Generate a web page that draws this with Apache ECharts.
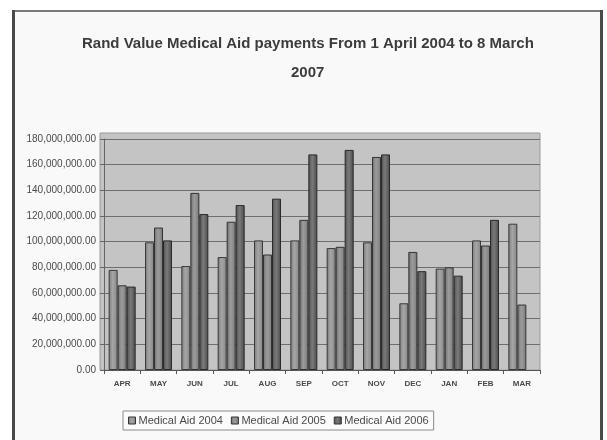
<!DOCTYPE html>
<html>
<head>
<meta charset="utf-8">
<script src="https://cdn.jsdelivr.net/npm/echarts@6/dist/echarts.min.js"></script>
<style>
html,body{margin:0;padding:0;background:#ffffff;}
#chart{width:607px;height:440px;}
</style>
</head>
<body>
<div id="chart"></div>
<script>
var categories = ['APR','MAY','JUN','JUL','AUG','SEP','OCT','NOV','DEC','JAN','FEB','MAR'];
var aid2004 = [78000000, 99500000, 81000000, 88000000, 101000000, 101000000, 95000000, 99500000, 52000000, 79000000, 101000000, 114000000];
var aid2005 = [66000000, 111000000, 138000000, 115500000, 90000000, 117000000, 96000000, 166000000, 92000000, 80000000, 97000000, 51000000];
var aid2006 = [65000000, 101000000, 121500000, 128500000, 133500000, 168000000, 171500000, 168000000, 77000000, 73500000, 117000000, null];
var seriesNames = ['Medical Aid 2004', 'Medical Aid 2005', 'Medical Aid 2006'];
var titleLines = ['Rand Value Medical Aid payments From 1 April 2004 to 8 March', '2007'];
var yTicks = {min: 0, max: 180000000, interval: 20000000};

function fmt(v) {
  var s = Math.round(v).toString();
  var out = '';
  for (var i = 0; i < s.length; i++) {
    if (i > 0 && (s.length - i) % 3 === 0) out += ',';
    out += s[i];
  }
  return out + '.00';
}

function grad(dark, mid, light) {
  return new echarts.graphic.LinearGradient(0, 0, 1, 0, [
    {offset: 0, color: dark},
    {offset: 0.45, color: light},
    {offset: 1, color: mid}
  ]);
}

var chart = echarts.init(document.getElementById('chart'), null, {renderer: 'canvas'});

var barStyle = [
  {color: grad('#7a7a7a', '#858585', '#a6a6a6'), borderColor: '#3a3a3a', borderWidth: 1},
  {color: grad('#6e6e6e', '#7a7a7a', '#9c9c9c'), borderColor: '#333333', borderWidth: 1},
  {color: grad('#505050', '#4a4a4a', '#7a7a7a'), borderColor: '#2a2a2a', borderWidth: 1}
];
var legendColors = ['#8a8a8a', '#7a7a7a', '#555555'];
var dataSets = [aid2004, aid2005, aid2006];

var series = dataSets.map(function (d, i) {
  return {
    name: seriesNames[i],
    type: 'bar',
    data: d,
    barWidth: 9,
    barGap: '0%',
    color: legendColors[i],
    itemStyle: barStyle[i],
    emphasis: {disabled: true}
  };
});

var titleStyle = {fontFamily: 'Liberation Sans', fontSize: 15, fontWeight: 'bold', color: '#3c3c3c'};

chart.setOption({
  animation: false,
  backgroundColor: '#ffffff',
  graphic: [
    {type: 'rect', z: -10, silent: true, shape: {x: 13, y: 11, width: 588, height: 440},
     style: {fill: '#f9f9f9', stroke: '#7a7a7a', lineWidth: 2}},
    {type: 'line', z: -9, silent: true, shape: {x1: 13.5, y1: 10, x2: 13.5, y2: 440},
     style: {stroke: '#4a4a4a', lineWidth: 3}},
    {type: 'line', z: -9, silent: true, shape: {x1: 601.5, y1: 10, x2: 601.5, y2: 440},
     style: {stroke: '#4a4a4a', lineWidth: 3}},
    {type: 'rect', z: -5, silent: true, shape: {x: 100, y: 133, width: 440, height: 237},
     style: {fill: '#c4c4c4', stroke: '#9a9a9a', lineWidth: 1}}
  ],
  title: [
    {text: titleLines[0], left: 82, top: 36, padding: 0, textStyle: titleStyle},
    {text: titleLines[1], left: 291, top: 65, padding: 0, textStyle: titleStyle}
  ],
  legend: {
    data: seriesNames,
    left: 123,
    top: 411,
    orient: 'horizontal',
    icon: 'rect',
    itemWidth: 7,
    itemHeight: 7,
    itemGap: 8,
    padding: [4, 5, 4, 5],
    borderColor: '#8a8a8a',
    borderWidth: 1,
    backgroundColor: '#fbfbfb',
    textStyle: {fontFamily: 'Liberation Sans', fontSize: 11, color: '#4a4a4a', padding: [0, 0, 0, -2]},
    itemStyle: {borderColor: '#333333', borderWidth: 1}
  },
  grid: {left: 104, right: 67, top: 139, bottom: 70, containLabel: false},
  xAxis: {
    type: 'category',
    data: categories,
    axisLine: {show: true, lineStyle: {color: '#555555', width: 1}},
    axisTick: {show: true, length: 4, lineStyle: {color: '#555555'}},
    axisLabel: {fontFamily: 'Liberation Sans', fontSize: 8, fontWeight: 'bold', color: '#4a4a4a', margin: 10},
    splitLine: {show: false}
  },
  yAxis: {
    type: 'value',
    min: yTicks.min,
    max: yTicks.max,
    interval: yTicks.interval,
    axisLine: {show: true, lineStyle: {color: '#666666', width: 1}},
    axisTick: {show: true, length: 4, lineStyle: {color: '#666666'}},
    axisLabel: {fontFamily: 'Liberation Sans', fontSize: 10, color: '#4a4a4a', margin: 8, formatter: fmt},
    splitLine: {show: true, lineStyle: {color: '#6e6e6e', width: 1}}
  },
  series: series
});
</script>
</body>
</html>
